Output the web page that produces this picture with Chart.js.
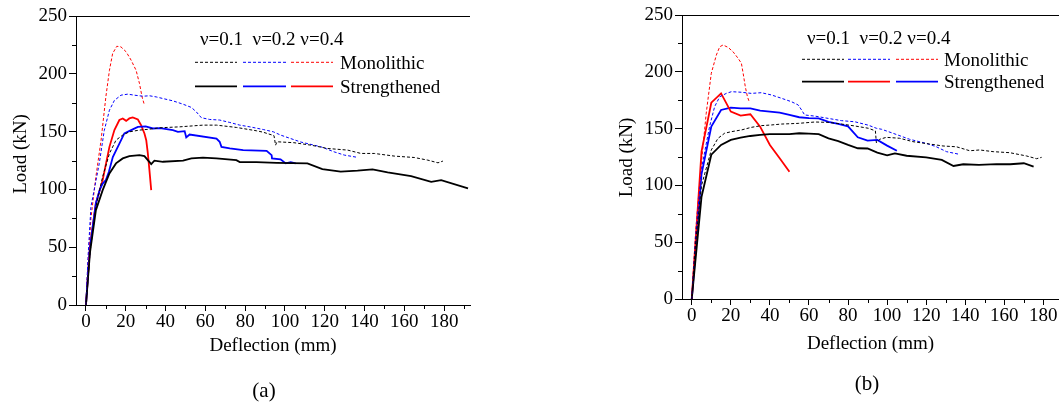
<!DOCTYPE html>
<html>
<head>
<meta charset="utf-8">
<script src="https://cdn.jsdelivr.net/npm/chart.js@4/dist/chart.umd.min.js"></script>
<style>
  body { margin: 0; background: #fff; width: 1059px; height: 404px; position: relative; overflow: hidden; }
  canvas { position: absolute; top: 0; }
  #ca { left: 0; }
  #cb { left: 600px; }
  .cap { position: absolute; width: 60px; text-align: center; font: 21px "Liberation Serif", "DejaVu Serif", serif; line-height: 21px; color: #000; }
</style>
</head>
<body>
<canvas id="ca" width="480" height="404"></canvas>
<canvas id="cb" width="459" height="404"></canvas>
<div class="cap" style="left:234px; top:380px;">(a)</div>
<div class="cap" style="left:837px; top:373px;">(b)</div>
<script>
// [deflection mm, load kN] pairs

// (a) monolithic, nu = 0.1 / 0.2 / 0.4
const monoA_01 = [[0,0],[2,45],[5,85],[8.4,111],[11.8,131],[15.1,142.6],[18.5,147],[21.8,149.8],[26.9,151.3],[31.9,152.1],[37,153.3],[47,154.1],[58.8,155.6],[65.6,155.6],[75.6,153.6],[85.7,150.7],[89,149.5],[94.5,146.5],[95.3,138.3],[96,141.2],[104.5,140.4],[113,138.3],[121.4,135.4],[131.5,134],[138.2,131.1],[144.9,131.1],[155,128.8],[165,127.6],[171.8,125.3],[176.9,123],[179.4,124.5]];
const monoA_02 = [[0,0],[1,40],[2.5,85],[6.7,122.5],[9.2,151],[11.8,168.5],[14.3,177],[17.6,181.5],[21,182.4],[24.4,181.5],[28.6,180.6],[31.9,181],[35.3,180],[38.7,178.6],[43.7,176.6],[48.8,173.7],[53,170.9],[55.5,167],[58,162],[62.2,160.5],[67.2,160],[72.3,157.9],[77.3,155.6],[82.4,154.1],[89.1,151.8],[94.2,149.8],[97.8,147],[107.9,141],[118,136.9],[124.7,132.5],[129.8,129.7],[136.5,127.7]];
const monoA_04 = [[0,0],[1,35],[2.5,75],[5,111],[7.6,142.6],[10,180],[11.8,203],[13.4,217.5],[15.5,223.8],[17.6,223.3],[20.2,219],[22.7,211.8],[25.2,203],[26.9,191.6],[28.2,180],[29.4,172.9]];
// (a) strengthened, nu = 0.1 / 0.2 / 0.4
const strA_01 = [[0,0],[2,45],[5,82],[8.4,99.4],[11.8,113.8],[15.1,122.5],[18.5,126.8],[21.8,128.8],[26.9,129.6],[29.4,128.8],[31.1,125.3],[32.8,121.9],[34.4,124.8],[38.7,123.9],[48.8,124.8],[53,126.8],[58.8,127.4],[65.6,126.8],[75.6,125.3],[77.3,123.6],[85.7,123.6],[95.8,123],[111.3,122.5],[118.8,117.6],[128,115.3],[136.5,116.2],[144,117.3],[151.6,114.7],[163.4,111.5],[173.5,106.6],[178.5,108],[192,100.8]];
const strA_02 = [[0,0],[2,50],[5,88],[7,100],[8.4,105],[10,108],[11.5,115],[13.5,128],[16.8,139.6],[19.3,148.4],[22.7,151.3],[26.1,154.1],[30,154.5],[33.6,152.7],[37.3,153],[43.7,151.3],[46.2,149.8],[49.6,150.4],[50.4,145],[52.1,147.5],[65.6,144],[67.2,141.2],[68.1,136.8],[72.3,135.4],[79,134],[90.8,133.4],[93.3,129.6],[93.5,126.8],[97.8,126],[100.4,122.5],[102.9,123.6],[105.4,122.5]];
const strA_04 = [[0,0],[2,50],[5,88],[8.4,108],[10.1,122.5],[11.8,136.8],[14.3,151.3],[16.8,160],[18.5,161.4],[20.2,159.3],[21.8,161.4],[23.5,162.2],[26.1,160.5],[27.7,155.6],[29.4,148.4],[30.3,142.6],[31.1,131.1],[31.9,116.7],[32.8,99.4]];

// (b) monolithic, nu = 0.1 / 0.2 / 0.4
const monoB_01 = [[0,0],[2,50],[5,100],[10,131.2],[13.4,141.4],[16.8,145.9],[20.3,147.3],[25.4,148.8],[30.5,151.1],[35.6,152.6],[40.8,153.2],[45.9,154],[54.5,154.6],[63,155.8],[69.8,155.5],[76.7,154],[83.5,152.3],[90.4,150.3],[94,148],[94.5,137.6],[96.2,140.6],[99.6,142.3],[106.4,141.5],[113.2,138.5],[121.8,136.4],[128.6,134.7],[135.5,134],[142.3,130.5],[147.4,131.2],[154.3,129.7],[162.8,128.8],[171.4,125.9],[176.5,123.5],[179.1,124.7]];
const monoB_02 = [[0,0],[2,55],[5,115],[9.1,151.7],[11.7,169.3],[14.3,178],[17.7,181],[20.3,182.5],[25.4,182],[30.5,181],[35.6,181.6],[40.8,179.6],[45.9,176.7],[51,173.7],[54.5,170.8],[56.2,166.4],[57.8,162],[63,161],[69.8,159],[76.7,157],[83.5,156],[90.4,153],[94.5,150.3],[97.2,149.4],[103,145.9],[111.5,140.6],[120.1,137],[125.2,134],[130.4,129.7],[136.3,127.6]];
const monoB_04 = [[0,0],[2,60],[4.9,119.5],[7.4,163.5],[10,198.7],[12.6,214.8],[14.3,222],[16,223.6],[18.6,221.5],[21.1,217.7],[23.7,211.9],[25.4,207.5],[26.3,198.7],[27.4,186.9],[28.5,178],[29.6,172.8]];
// (b) strengthened, nu = 0.1 / 0.2 / 0.4
const strB_01 = [[0,0],[5,90],[10,127],[15,135.6],[20,140],[25,142],[30,143.5],[35,144.4],[40,145.2],[45,145.2],[50,145.2],[55,145.9],[60,145.5],[65,145.2],[70,141.4],[75,139],[80,135.6],[85,132.7],[90,132.5],[95,128.8],[100,126.5],[104,128.2],[110,126.1],[120,124.7],[128,122.4],[134,117.1],[139,118.6],[147,118],[156,118.8],[163,118.6],[170,119.5],[175,116.5]];
const strB_02 = [[0,0],[5,130],[10,172.8],[15,181],[20,165],[25,161.4],[30,162.6],[35,151.7],[40,135.6],[45,123.9],[50,112]];
const strB_04 = [[0,0],[5,110],[10,151.7],[15,166.4],[20,168.4],[25,167.8],[30,167.8],[35,165.8],[40,165],[45,164],[50,162],[55,160],[60,159.3],[65,159],[70,156],[75,154.2],[80,152],[85,142.3],[90,139.4],[95,140],[100,135],[105,130.5]];

const xTicks = [0, 20, 40, 60, 80, 100, 120, 140, 160, 180];
const xMinor = [10, 30, 50, 70, 90, 110, 130, 150, 170, 190];
const yTicks = [0, 50, 100, 150, 200, 250];
const yMinor = [25, 75, 125, 175, 225];
const nuLabels = ['ν=0.1', 'ν=0.2', 'ν=0.4'];
const rowLabels = ['Monolithic', 'Strengthened'];

const BLACK = '#000000', BLUE = '#0000ff', RED = '#ff0000';
const FONT = '"Liberation Serif", "DejaVu Serif", serif';

Chart.defaults.font.family = FONT;
Chart.defaults.font.size = 19;
Chart.defaults.color = '#000';

// legend + y title drawn by hand, canvas coords
var legendLayout = {
    ca: { headX: 200, headY: 45, rows: [62.3, 86.3], segs: [[195, 237], [243, 286], [291, 333]], textX: 340, yTitle: [21, 154] },
    cb: { headX: 207, headY: 43.5, rows: [59.3, 81.7], segs: [[202, 244], [248, 290], [296, 338]], textX: 344, yTitle: [27.5, 157.5] }
};

var framePlugin = {
    id: 'frame',
    afterDraw: function (chart) {
        var ctx = chart.ctx, a = chart.chartArea;
        var xs = chart.scales.x, ys = chart.scales.y;
        ctx.save();
        ctx.strokeStyle = '#000';
        ctx.lineWidth = 1;
        ctx.setLineDash([]);
        ctx.beginPath();
        var t = Math.round(a.top) + 0.5;
        ctx.moveTo(a.left, t);
        ctx.lineTo(a.right, t);
        xMinor.forEach(function (v) {
            if (v > xs.max) return;
            var p = Math.round(xs.getPixelForValue(v)) + 0.5;
            ctx.moveTo(p, a.bottom);
            ctx.lineTo(p, a.bottom + 4);
        });
        yMinor.forEach(function (v) {
            var p = Math.round(ys.getPixelForValue(v)) + 0.5;
            ctx.moveTo(a.left, p);
            ctx.lineTo(a.left - 4, p);
        });
        ctx.stroke();

        var lg = legendLayout[chart.canvas.id];
        ctx.font = '19px ' + FONT;
        ctx.fillStyle = '#000';

        ctx.save();
        ctx.translate(lg.yTitle[0], lg.yTitle[1]);
        ctx.rotate(-Math.PI / 2);
        ctx.textAlign = 'center';
        ctx.textBaseline = 'middle';
        ctx.fillText('Load (kN)', 0, 0);
        ctx.restore();

        ctx.textBaseline = 'alphabetic';
        ctx.fillText(nuLabels[0] + '  ' + nuLabels[1] + ' ' + nuLabels[2], lg.headX, lg.headY);
        for (var r = 0; r < 2; r++) {
            var y = lg.rows[r];
            for (var k = 0; k < 3; k++) {
                var ds = chart.data.datasets[r * 3 + k];
                ctx.strokeStyle = ds.borderColor;
                ctx.lineWidth = ds.borderWidth;
                ctx.setLineDash(ds.borderDash);
                ctx.beginPath();
                ctx.moveTo(lg.segs[k][0], y);
                ctx.lineTo(lg.segs[k][1], y);
                ctx.stroke();
            }
            ctx.setLineDash([]);
            ctx.fillText(rowLabels[r], lg.textX, y + 6.5);
        }
        ctx.restore();
    }
};

function toXY(pts) {
    return pts.map(function (p) { return { x: p[0], y: p[1] }; });
}

function line(pts, color, dashed) {
    return {
        data: toXY(pts),
        borderColor: color,
        borderWidth: dashed ? 1 : 1.8,
        borderDash: dashed ? [3, 2] : [],
        pointRadius: 0,
        tension: 0,
        fill: false
    };
}

function makeChart(id, datasets, xMax, lay) {
    return new Chart(document.getElementById(id), {
        type: 'line',
        data: { datasets: datasets },
        options: {
            responsive: false,
            animation: false,
            devicePixelRatio: 1,
            layout: { padding: lay.pad },
            plugins: { legend: { display: false }, tooltip: { enabled: false } },
            scales: {
                x: {
                    type: 'linear', min: -5, max: xMax,
                    afterBuildTicks: function (s) { s.ticks = xTicks.map(function (v) { return { value: v }; }); },
                    afterFit: function (s) { s.height = lay.xh; },
                    grid: { drawOnChartArea: false, drawTicks: true, tickLength: 6, color: '#000' },
                    border: { display: true, color: '#000', width: 1 },
                    ticks: { padding: 0, maxRotation: 0, autoSkip: false },
                    title: { display: true, text: 'Deflection (mm)', padding: { top: 0, bottom: lay.xtp } }
                },
                y: {
                    type: 'linear', min: 0, max: 250,
                    afterBuildTicks: function (s) { s.ticks = yTicks.map(function (v) { return { value: v }; }); },
                    afterFit: function (s) { s.width = lay.yw; },
                    grid: { drawOnChartArea: false, drawTicks: true, tickLength: 7, color: '#000' },
                    border: { display: true, color: '#000', width: 1 },
                    ticks: { padding: 2, autoSkip: false },
                    title: { display: false }
                }
            }
        },
        plugins: [framePlugin]
    });
}

makeChart('ca', [
    line(monoA_01, BLACK, true), line(monoA_02, BLUE, true), line(monoA_04, RED, true),
    line(strA_01, BLACK, false), line(strA_02, BLUE, false), line(strA_04, RED, false)
], 193, { pad: { left: 0, top: 16, right: 10, bottom: 43 }, xh: 56, xtp: 4, yw: 76 });

makeChart('cb', [
    line(monoB_01, BLACK, true), line(monoB_02, BLUE, true), line(monoB_04, RED, true),
    line(strB_01, BLACK, false), line(strB_02, RED, false), line(strB_04, BLUE, false)
], 188, { pad: { left: 0, top: 15, right: 0, bottom: 45 }, xh: 60, xtp: 4, yw: 82 });
</script>
</body>
</html>
